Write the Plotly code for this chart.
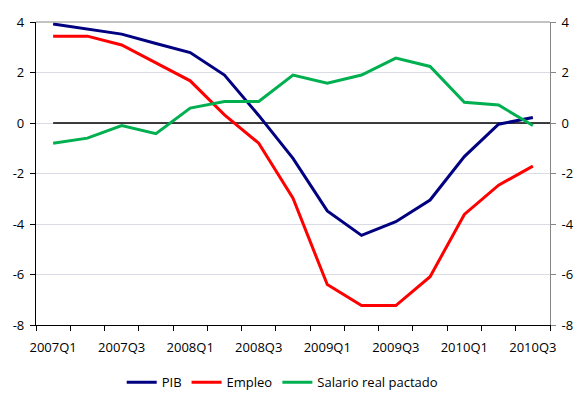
import plotly.graph_objects as go

quarters = ["2007Q1", "2007Q2", "2007Q3", "2007Q4",
            "2008Q1", "2008Q2", "2008Q3", "2008Q4",
            "2009Q1", "2009Q2", "2009Q3", "2009Q4",
            "2010Q1", "2010Q2", "2010Q3"]
pib = [3.92, 3.72, 3.52, 3.15, 2.79, 1.90, 0.30, -1.40, -3.48, -4.45, -3.91, -3.05, -1.33, -0.05, 0.22]
empleo = [3.44, 3.44, 3.09, 2.37, 1.67, 0.32, -0.80, -2.98, -6.40, -7.23, -7.23, -6.09, -3.62, -2.46, -1.71]
salario = [-0.80, -0.60, -0.10, -0.42, 0.59, 0.85, 0.85, 1.90, 1.58, 1.90, 2.57, 2.24, 0.82, 0.71, -0.10]
y_ticks = [-8, -6, -4, -2, 0, 2, 4]
y_tick_labels = ["-8", "-6", "-4", "-2", "0", "2", "4"]
label_every = 2

idx = list(range(len(quarters)))
font = dict(family="Open Sans, Noto Sans, sans-serif", size=13, color="#000000")

fig = go.Figure()
# zero reference line (series-like, starts at first category)
fig.add_trace(go.Scatter(x=[idx[0], len(quarters) - 0.5], y=[0, 0], mode="lines",
                         line=dict(color="#000000", width=1.5), showlegend=False, hoverinfo="skip"))
fig.add_trace(go.Scatter(x=idx, y=pib, name="PIB", mode="lines",
                         line=dict(color="#000080", width=3)))
fig.add_trace(go.Scatter(x=idx, y=empleo, name="Empleo", mode="lines",
                         line=dict(color="#FF0000", width=3)))
fig.add_trace(go.Scatter(x=idx, y=salario, name="Salario real pactado", mode="lines",
                         line=dict(color="#00B050", width=3)))
# invisible trace to carry the secondary axis
fig.add_trace(go.Scatter(x=idx, y=pib, yaxis="y2", mode="lines", line=dict(width=0),
                         opacity=0, showlegend=False, hoverinfo="skip"))

# page body has an 8px default margin, so the figure is sized/offset to compensate
fig.update_layout(
    width=579, height=396,
    margin=dict(l=28, r=37, t=14, b=79, autoexpand=False),
    paper_bgcolor="white", plot_bgcolor="white",
    font=font,
    showlegend=True,
    legend=dict(orientation="h", x=0.48, xanchor="center", y=-0.14, yanchor="top",
                font=dict(size=13), tracegroupgap=0),
    xaxis=dict(range=[-0.5, len(quarters) - 0.5], automargin=False,
               tickvals=idx[::label_every], ticktext=quarters[::label_every],
               ticks="", showgrid=False, zeroline=False, ticklabelstandoff=10,
               showline=True, linecolor="#000000", linewidth=1.2,
               minor=dict(ticks="outside", tick0=-0.5, dtick=1, ticklen=5,
                          tickcolor="#000000", tickwidth=1, showgrid=False),
               tickfont=font),
    yaxis=dict(range=[-8, 4], tickvals=y_ticks, ticktext=y_tick_labels, automargin=False,
               ticks="outside", ticklen=5, ticklabelstandoff=3,
               tickcolor="#000000", showline=True, linecolor="#000000", linewidth=1.2,
               showgrid=True, gridcolor="#D9DCE6", gridwidth=1, zeroline=False,
               tickfont=font),
    yaxis2=dict(range=[-8, 4], tickvals=y_ticks, ticktext=y_tick_labels, automargin=False,
                overlaying="y", side="right", ticklabelstandoff=3,
                ticks="outside", ticklen=5, tickcolor="#868686",
                showline=True, linecolor="#868686", linewidth=1,
                showgrid=False, zeroline=False, tickfont=font),
    shapes=[dict(type="line", xref="paper", yref="paper", x0=0, x1=1, y0=1, y1=1,
                 line=dict(color="#868686", width=1))],
)

fig.write_html("out.html")
